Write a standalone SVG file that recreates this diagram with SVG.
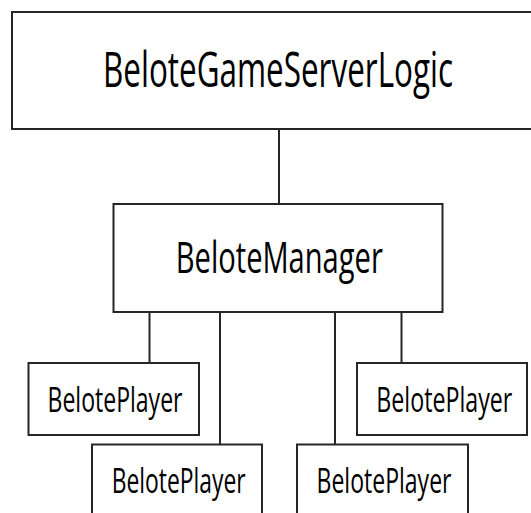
<svg xmlns="http://www.w3.org/2000/svg" width="531" height="513" viewBox="0 0 531 513">
<style>
.box{fill:#fff;stroke:#262626;stroke-width:2}
.con{stroke:#262626;stroke-width:2;fill:none}
text{font-family:"Open Sans","Noto Sans","DejaVu Sans",sans-serif;fill:#000;text-anchor:middle}
.t1{font-size:49px}
.t2{font-size:43px}
.t3{font-size:35px}
</style>
<rect width="531" height="513" fill="#fff"/>
<g id="connectors">
<line class="con" x1="279" y1="129" x2="279" y2="204"/>
<line class="con" x1="149.5" y1="312" x2="149.5" y2="363"/>
<line class="con" x1="220" y1="312" x2="220" y2="444.5"/>
<line class="con" x1="335" y1="312" x2="335" y2="444.5"/>
<line class="con" x1="401.5" y1="312" x2="401.5" y2="363"/>
</g>
<g id="BeloteGameServerLogic">
<rect class="box" x="12" y="12" width="534" height="117"/>
<text class="t1" x="278" y="87.3" textLength="350" lengthAdjust="spacingAndGlyphs">BeloteGameServerLogic</text>
</g>
<g id="BeloteManager">
<rect class="box" x="113.5" y="204" width="329" height="108"/>
<text class="t2" x="279.3" y="273.3" textLength="207" lengthAdjust="spacingAndGlyphs">BeloteManager</text>
</g>
<g id="BelotePlayer1">
<rect class="box" x="28.5" y="363" width="170.5" height="72"/>
<text class="t3" x="115" y="412.3" textLength="135" lengthAdjust="spacingAndGlyphs">BelotePlayer</text>
</g>
<g id="BelotePlayer2">
<rect class="box" x="92" y="444.5" width="170" height="100"/>
<text class="t3" x="178.7" y="492.7" textLength="134" lengthAdjust="spacingAndGlyphs">BelotePlayer</text>
</g>
<g id="BelotePlayer3">
<rect class="box" x="297" y="444.5" width="171" height="100"/>
<text class="t3" x="384" y="492.7" textLength="135" lengthAdjust="spacingAndGlyphs">BelotePlayer</text>
</g>
<g id="BelotePlayer4">
<rect class="box" x="357" y="363" width="170" height="72"/>
<text class="t3" x="444.3" y="412.3" textLength="136" lengthAdjust="spacingAndGlyphs">BelotePlayer</text>
</g>
</svg>
